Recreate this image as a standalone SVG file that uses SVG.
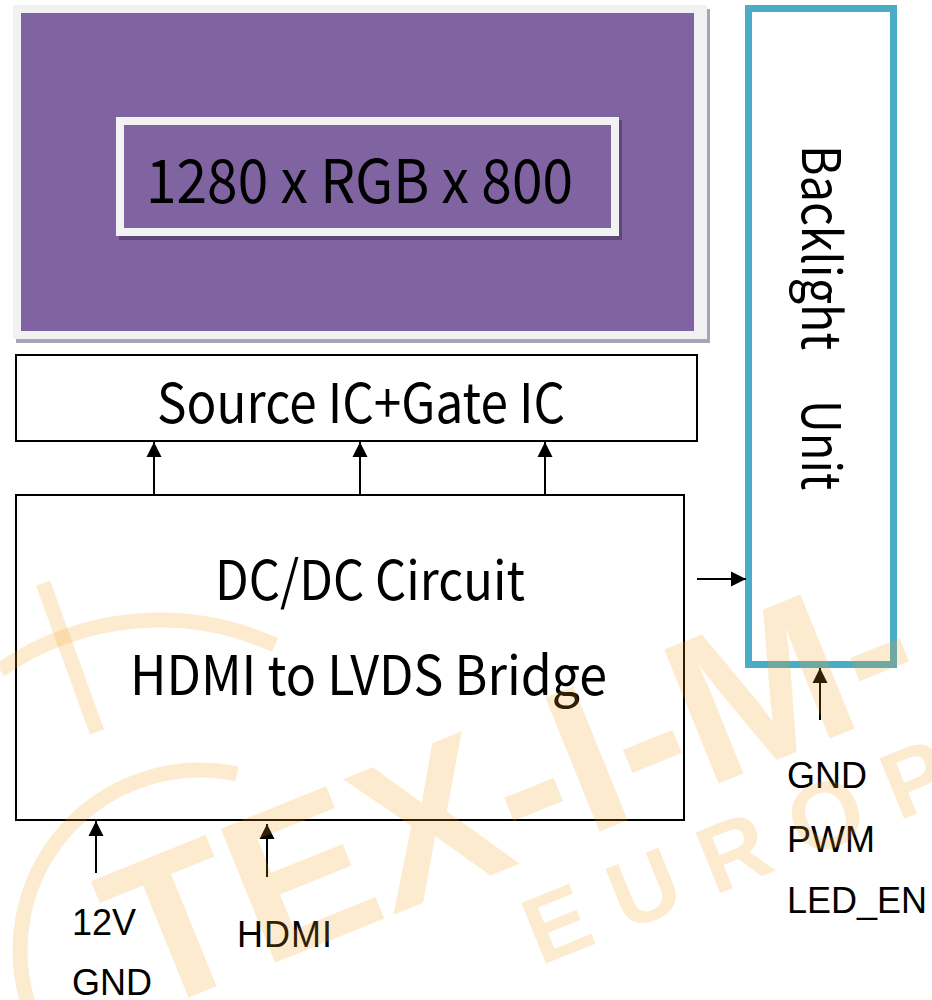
<svg xmlns="http://www.w3.org/2000/svg" width="932" height="1000" viewBox="0 0 932 1000">
<style>
.big{font-family:"Noto Sans CJK TC","Noto Sans",sans-serif;fill:#000}
.sig{font-family:"Liberation Sans","DejaVu Sans",sans-serif;font-size:36px;fill:#000}
.box{fill:#fff;stroke:#000;stroke-width:2}
.con{stroke:#000;stroke-width:2;fill:none;marker-end:url(#ah)}
.wml{stroke:#f59b14;stroke-opacity:0.2;fill:none;stroke-width:15}
.wmt{font-family:"Liberation Sans",sans-serif;font-weight:bold;fill:#f59b14;fill-opacity:0.2}
</style>
<defs>
<marker id="ah" markerUnits="userSpaceOnUse" markerWidth="16" markerHeight="16" viewBox="0 0 16 16" refX="15" refY="8" orient="auto">
<path d="M0,0.5 L15,8 L0,15.5 Z" fill="#000"/>
</marker>
</defs>
<rect width="932" height="1000" fill="#fff"/>

<g id="panel">
<rect x="16" y="9" width="694" height="334" fill="#aaa3b8"/>
<rect x="13" y="5" width="694" height="334" fill="#f2f2f2"/>
<rect x="21" y="13" width="673" height="318" fill="#8064a2"/>
<rect x="119" y="120" width="503" height="120" fill="#5c4778"/>
<rect x="120" y="121" width="495" height="111" fill="#8064a2" stroke="#f2f2f2" stroke-width="8"/>
<text class="big" x="146" y="203" font-size="60" textLength="427" lengthAdjust="spacingAndGlyphs">1280 x RGB x 800</text>
</g>

<g id="source-ic">
<rect class="box" x="16" y="355" width="681" height="86"/>
<text class="big" x="157" y="423" font-size="55" textLength="408" lengthAdjust="spacingAndGlyphs">Source IC+Gate IC</text>
</g>

<g id="dcdc">
<rect class="box" x="16" y="495" width="668" height="325"/>
<text class="big" x="215" y="600" font-size="54" textLength="310" lengthAdjust="spacingAndGlyphs">DC/DC Circuit</text>
<text class="big" x="130" y="695" font-size="54" textLength="477" lengthAdjust="spacingAndGlyphs">HDMI to LVDS Bridge</text>
</g>

<g id="backlight">
<rect x="748.5" y="8.5" width="145" height="656" fill="#fff" stroke="#4bacc6" stroke-width="7"/>
<text class="big" font-size="53" transform="translate(802,0) rotate(90)" x="145" y="0" textLength="205" lengthAdjust="spacingAndGlyphs">Backlight</text>
<text class="big" font-size="53" transform="translate(802,0) rotate(90)" x="400" y="0" textLength="90" lengthAdjust="spacingAndGlyphs">Unit</text>
</g>

<g id="labels">
<text class="sig" x="72" y="935">12V</text>
<text class="sig" x="72" y="995">GND</text>
<text class="sig" x="237" y="947" letter-spacing="1">HDMI</text>
<text class="sig" x="787" y="788">GND</text>
<text class="sig" x="787" y="852">PWM</text>
<text class="sig" x="787" y="913">LED_EN</text>
</g>

<g id="connectors">
<line class="con" x1="154" y1="495" x2="154" y2="442"/>
<line class="con" x1="360" y1="495" x2="360" y2="442"/>
<line class="con" x1="545" y1="495" x2="545" y2="442"/>
<line class="con" x1="697" y1="579" x2="746" y2="579"/>
<line class="con" x1="820" y1="720" x2="820" y2="668"/>
<line class="con" x1="96" y1="873" x2="96" y2="821"/>
<line class="con" x1="267" y1="877" x2="267" y2="824"/>
</g>

<g id="watermark">
<path class="wml" d="M0,670 A280,280 0 0 1 275,645"/>
<path class="wml" d="M43,583 L97,732"/>
<path class="wml" d="M31,1012 A180,180 0 0 1 237,774"/>
<text class="wmt" font-size="210" transform="translate(143,1016) rotate(-22)">TEX-I-M-</text>
<text class="wmt" font-size="95" letter-spacing="28" transform="translate(540,966) rotate(-22)">EUROP</text>
</g>
</svg>
